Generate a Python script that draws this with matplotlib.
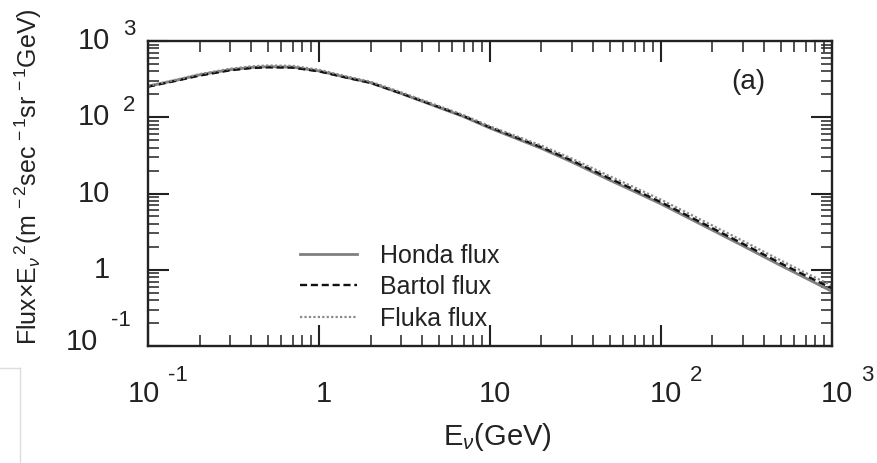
import matplotlib
matplotlib.use("Agg")
import matplotlib.pyplot as plt
import matplotlib.transforms as mtransforms
from matplotlib.ticker import LogLocator, FixedLocator, NullFormatter
from matplotlib.lines import Line2D

plt.rcParams['font.family'] = ['Liberation Sans', 'DejaVu Sans']
plt.rcParams['mathtext.fontset'] = 'custom'
plt.rcParams['mathtext.rm'] = 'Liberation Sans'
plt.rcParams['mathtext.it'] = 'Liberation Sans:italic'
plt.rcParams['mathtext.bf'] = 'Liberation Sans:bold'

# Neutrino energy (GeV) and E^2-weighted flux
energy = [0.1, 0.15, 0.2, 0.3, 0.4, 0.5, 0.7, 1.0, 1.5, 2.0, 3.0, 5.0, 7.0,
          10.0, 20.0, 30.0, 50.0, 70.0, 100.0, 200.0, 300.0, 500.0, 700.0, 1000.0]
honda = [255, 310, 360, 420, 450, 460, 455, 405, 327, 284, 206, 135, 102,
         72, 39, 26, 15, 10.6, 7.3, 3.3, 2.07, 1.14, 0.78, 0.52]
bartol = [252, 305, 352, 412, 442, 452, 448, 400, 325, 283, 207, 137, 104,
          74, 40.5, 27.2, 15.8, 11.2, 7.7, 3.5, 2.2, 1.22, 0.84, 0.57]
fluka = [258, 315, 368, 432, 465, 478, 472, 420, 338, 293, 214, 141, 107,
         76, 42.5, 28.8, 16.9, 12.0, 8.3, 3.8, 2.4, 1.33, 0.91, 0.62]

# tick labels: base text and exponent written apart, as in the original
ticks = [0.1, 1, 10, 100, 1000]
tick_base = ['10', '1', '10', '10', '10']
tick_exp = ['-1', '', '', '2', '3']

ink = '#222222'
fig = plt.figure(figsize=(8.77, 4.63), dpi=100)
ax = fig.add_axes([0.1688, 0.2527, 0.7799, 0.6587])

ax.plot(energy, honda, color='#808080', lw=2.0, ls='-', label='Honda flux')
ax.plot(energy, bartol, color='#111111', lw=1.7, ls=(0, (3, 1.6)), label='Bartol flux')
ax.plot(energy, fluka, color='#8a8a8a', lw=1.6, ls=(0, (1, 1)), label='Fluka flux')

ax.set_xscale('log')
ax.set_yscale('log')
ax.set_xlim(0.1, 1000)
ax.set_ylim(0.1, 1000)

ax.xaxis.set_major_locator(FixedLocator(ticks))
ax.yaxis.set_major_locator(FixedLocator(ticks))
ax.xaxis.set_minor_locator(LogLocator(base=10, subs=range(2, 10), numticks=20))
ax.yaxis.set_minor_locator(LogLocator(base=10, subs=range(2, 10), numticks=20))
ax.xaxis.set_major_formatter(NullFormatter())
ax.yaxis.set_major_formatter(NullFormatter())
ax.xaxis.set_minor_formatter(NullFormatter())
ax.yaxis.set_minor_formatter(NullFormatter())

ax.tick_params(which='both', direction='in', top=True, right=True, color=ink)
ax.tick_params(which='major', length=15, width=1.5)
ax.tick_params(which='minor', length=8, width=1.1)
for s in ax.spines.values():
    s.set_linewidth(1.7)
    s.set_color(ink)

# hand-placed tick labels with detached exponents
xtrans = mtransforms.blended_transform_factory(ax.transData, ax.transAxes)
ytrans = mtransforms.blended_transform_factory(ax.transAxes, ax.transData)
for t, b, e in zip(ticks, tick_base, tick_exp):
    neg = e.startswith('-')
    dx = -4 if neg else 5
    ax.annotate(b, (t, 0), xycoords=xtrans, xytext=(dx, -48), textcoords='offset pixels',
                ha='center', va='center', fontsize=21, color=ink, annotation_clip=False)
    if e:
        ax.annotate(e, (t, 0), xycoords=xtrans, xytext=(dx + 24, -30),
                    textcoords='offset pixels', ha='left', va='center',
                    fontsize=16, color=ink, annotation_clip=False)
    bx = -50 if neg else -38
    by = 4 if neg else 0
    ax.annotate(b, (0, t), xycoords=ytrans, xytext=(bx, by), textcoords='offset pixels',
                ha='right', va='center', fontsize=21, color=ink, annotation_clip=False)
    if e:
        ax.annotate(e, (0, t), xycoords=ytrans, xytext=(bx + 13, by + 21 if neg else 12),
                    textcoords='offset pixels', ha='left', va='center',
                    fontsize=16, color=ink, annotation_clip=False)

ax.set_xlabel(r'E$_{\nu}$(GeV)', fontsize=21, color=ink)
ax.xaxis.set_label_coords(0.511, -0.298)
ax.xaxis.label.set_va('center')
ax.set_ylabel(r'Flux$\times$E$_{\nu}$$^{\,2}$(m$^{\,-2}$sec$^{\,-1}$sr$^{\,-1}$GeV)',
              fontsize=18, color=ink)
ax.yaxis.set_label_coords(-0.175, 0.555)
ax.yaxis.label.set_va('center')

ax.text(0.877, 0.867, '(a)', transform=ax.transAxes, fontsize=20, color=ink,
        ha='center', va='center')

ax.legend(loc='upper left', bbox_to_anchor=(0.222, 0.336), frameon=False,
          fontsize=18, handlelength=2.3, handletextpad=0.9, labelspacing=0.3,
          borderpad=0, borderaxespad=0, labelcolor=ink)

# screenshot frame edge at lower left
fig.add_artist(Line2D([0, 20 / 877], [1 - 368 / 463] * 2, color='#dddddd', lw=1,
                      transform=fig.transFigure))
fig.add_artist(Line2D([20 / 877] * 2, [0, 1 - 368 / 463], color='#dddddd', lw=1,
                      transform=fig.transFigure))

fig.savefig('out.png', dpi=100)
